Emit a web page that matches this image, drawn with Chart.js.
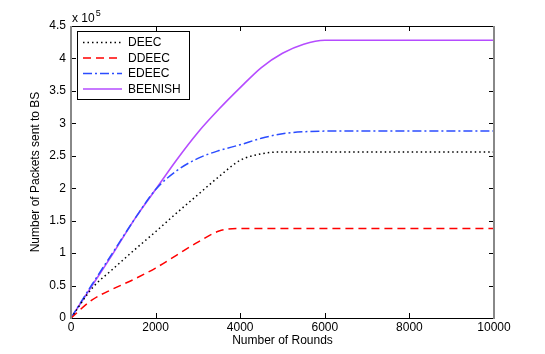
<!DOCTYPE html>
<html>
<head>
<meta charset="utf-8">
<script src="https://cdn.jsdelivr.net/npm/chart.js@4.4.0/dist/chart.umd.min.js"></script>
<style>
  html, body { margin: 0; padding: 0; background: #fff; }
  #wrap { width: 545px; height: 354px; }
</style>
</head>
<body>
<div id="wrap"><canvas id="mycanvas" width="545" height="354"></canvas></div>
<script>
// rounds (x) and packets sent to BS, in units of 1e5
var rounds  = [0, 500, 1000, 1500, 2000, 2500, 3000, 3500, 4000, 4500, 5000, 5500, 6000, 7000, 8000, 9000, 10000];
var deec    = [0, 0.46, 0.76, 1.05, 1.33, 1.62, 1.9, 2.18, 2.43, 2.53, 2.56, 2.56, 2.56, 2.56, 2.56, 2.56, 2.56];
var ddeec   = [0, 0.28, 0.45, 0.6, 0.77, 0.97, 1.17, 1.34, 1.38, 1.38, 1.38, 1.38, 1.38, 1.38, 1.38, 1.38, 1.38];
var edeec   = [0, 0.52, 1.02, 1.52, 1.98, 2.27, 2.46, 2.58, 2.67, 2.77, 2.84, 2.87, 2.88, 2.88, 2.88, 2.88, 2.88];
var beenish = [0, 0.5, 1.0, 1.52, 1.98, 2.44, 2.86, 3.22, 3.55, 3.86, 4.08, 4.22, 4.28, 4.28, 4.28, 4.28, 4.28];

var xTicks = [0, 2000, 4000, 6000, 8000, 10000];
var yMax = 4.5;
var FONT = "'Liberation Sans', Arial, sans-serif";

function pts(vals) {
	var out = [];
	for (var i in rounds) {
		out.push({x: rounds[i], y: vals[i]});
	}
	return out;
}

// box, inside tick marks, legend and the "x 10^5" exponent, matlab style
var matlabBox = {
	id: 'matlabBox',
	afterDraw: function(chart) {
		var ctx = chart.ctx;
		var a = chart.chartArea;
		var xs = chart.scales.x, ys = chart.scales.y;
		ctx.save();

		// ticks
		ctx.strokeStyle = '#000';
		ctx.lineWidth = 1;
		ctx.beginPath();
		xs.ticks.forEach(function(t) {
			var px = Math.round(xs.getPixelForValue(t.value)) + 0.5;
			ctx.moveTo(px, a.bottom); ctx.lineTo(px, a.bottom - 5);
			ctx.moveTo(px, a.top); ctx.lineTo(px, a.top + 5);
		});
		ys.ticks.forEach(function(t) {
			var py = Math.round(ys.getPixelForValue(t.value)) + 0.5;
			ctx.moveTo(a.left, py); ctx.lineTo(a.left + 5, py);
			ctx.moveTo(a.right, py); ctx.lineTo(a.right - 5, py);
		});
		ctx.stroke();

		// box: top/bottom black, sides grey
		ctx.beginPath();
		ctx.moveTo(a.left, Math.round(a.top) + 0.5); ctx.lineTo(a.right, Math.round(a.top) + 0.5);
		ctx.moveTo(a.left, Math.round(a.bottom) + 0.5); ctx.lineTo(a.right, Math.round(a.bottom) + 0.5);
		ctx.stroke();
		ctx.strokeStyle = '#888';
		ctx.lineWidth = 2;
		ctx.beginPath();
		ctx.moveTo(a.left, a.top); ctx.lineTo(a.left, a.bottom + 1);
		ctx.moveTo(a.right, a.top); ctx.lineTo(a.right, a.bottom + 1);
		ctx.stroke();

		// exponent
		ctx.fillStyle = '#000';
		ctx.textBaseline = 'alphabetic';
		ctx.textAlign = 'left';
		ctx.font = '12px ' + FONT;
		ctx.fillText('x 10', a.left + 1, a.top - 4);
		var w = ctx.measureText('x 10').width;
		ctx.font = '9px ' + FONT;
		ctx.fillText('5', a.left + 2 + w, a.top - 10);

		// legend
		var lx = 77, ly = 31, lw = 112, lh = 68;
		ctx.fillStyle = '#fff';
		ctx.fillRect(lx, ly, lw, lh);
		ctx.strokeStyle = '#000';
		ctx.lineWidth = 1;
		ctx.strokeRect(lx + 0.5, ly + 0.5, lw, lh);
		ctx.font = '12px ' + FONT;
		ctx.textBaseline = 'middle';
		chart.data.datasets.forEach(function(ds, i) {
			var y = ly + 11.5 + i * 15.5;
			ctx.save();
			ctx.strokeStyle = ds.borderColor;
			ctx.lineWidth = ds.borderWidth;
			ctx.setLineDash(ds.borderDash || []);
			ctx.beginPath();
			ctx.moveTo(lx + 6, y); ctx.lineTo(lx + 45, y);
			ctx.stroke();
			ctx.restore();
			ctx.fillStyle = '#000';
			ctx.fillText(ds.label, lx + 51, y + 0.5);
		});
		ctx.restore();
	}
};

var chartdata = {
	datasets: [
		{
			label: "DEEC",
			data: pts(deec),
			borderColor: "#000000",
			borderWidth: 1.5,
			borderDash: [1.5, 3]
		},
		{
			label: "DDEEC",
			data: pts(ddeec),
			borderColor: "#ff0000",
			borderWidth: 1.5,
			borderDash: [8, 5]
		},
		{
			label: "EDEEC",
			data: pts(edeec),
			borderColor: "#2b4cff",
			borderWidth: 1.5,
			borderDash: [9, 3, 2, 3]
		},
		{
			label: "BEENISH",
			data: pts(beenish),
			borderColor: "#b54cff",
			borderWidth: 1.6
		}
	]
};

var ctx = document.getElementById('mycanvas');

var LineGraph = new Chart(ctx, {
	type: 'line',
	data: chartdata,
	plugins: [matlabBox],
	options: {
		responsive: false,
		animation: false,
		layout: { padding: { top: 26, right: 51, left: 0, bottom: 0 } },
		elements: {
			point: { radius: 0 },
			line: { cubicInterpolationMode: 'monotone', fill: false }
		},
		plugins: {
			legend: { display: false },
			tooltip: { enabled: false }
		},
		scales: {
			x: {
				type: 'linear',
				min: 0,
				max: 10000,
				afterFit: function(s) { s.height = 36; },
				afterBuildTicks: function(s) { s.ticks = xTicks.map(function(v) { return {value: v}; }); },
				grid: { display: false, drawTicks: false },
				border: { display: false },
				ticks: {
					maxRotation: 0,
					padding: 2,
					color: '#000',
					font: { family: FONT, size: 12 },
					callback: function(v) { return String(v); }
				},
				title: {
					display: true,
					text: 'Number of Rounds',
					color: '#000',
					padding: { top: 0, bottom: 6 },
					font: { family: FONT, size: 12 }
				}
			},
			y: {
				min: 0,
				max: yMax,
				afterFit: function(s) { s.width = 71; },
				grid: { display: false, drawTicks: false },
				border: { display: false },
				ticks: {
					stepSize: 0.5,
					padding: 5,
					color: '#000',
					font: { family: FONT, size: 12 },
					callback: function(v) { return String(Math.round(v * 10) / 10); }
				},
				title: {
					display: true,
					text: 'Number of Packets sent to BS',
					color: '#000',
					padding: { top: 28, bottom: 0 },
					font: { family: FONT, size: 12 }
				}
			}
		}
	}
});
</script>
</body>
</html>
